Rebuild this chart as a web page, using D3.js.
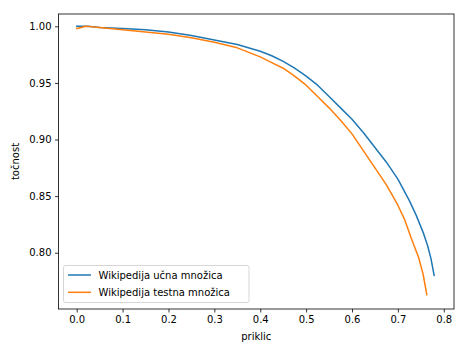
<!DOCTYPE html>
<html>
<head>
<meta charset="utf-8">
<script src="https://cdn.jsdelivr.net/npm/d3@7"></script>
<style>
  body { margin: 0; background: #fff; }
  svg { font-family: "DejaVu Sans", sans-serif; font-size: 10px; }
</style>
</head>
<body>
<div id="chart"></div>
<script>
// recall / precision points
const trainRecall = [0.000, 0.025, 0.050, 0.100, 0.150, 0.200, 0.250, 0.300, 0.350, 0.400, 0.425, 0.450, 0.475, 0.500, 0.525, 0.550, 0.575, 0.600, 0.625, 0.650, 0.675, 0.700, 0.725, 0.740, 0.755, 0.765, 0.772, 0.779];
const trainPrecision = [1.000, 1.000, 0.999, 0.998, 0.997, 0.995, 0.992, 0.988, 0.984, 0.978, 0.974, 0.969, 0.963, 0.956, 0.948, 0.938, 0.928, 0.918, 0.906, 0.893, 0.880, 0.865, 0.846, 0.833, 0.818, 0.806, 0.795, 0.780];
const testRecall = [0.000, 0.010, 0.020, 0.050, 0.100, 0.150, 0.200, 0.250, 0.300, 0.350, 0.400, 0.425, 0.450, 0.475, 0.500, 0.525, 0.550, 0.575, 0.600, 0.625, 0.650, 0.675, 0.700, 0.715, 0.730, 0.745, 0.755, 0.763];
const testPrecision = [0.998, 0.999, 1.000, 0.999, 0.997, 0.995, 0.993, 0.990, 0.986, 0.981, 0.973, 0.968, 0.963, 0.956, 0.948, 0.938, 0.928, 0.917, 0.905, 0.890, 0.875, 0.860, 0.842, 0.829, 0.812, 0.796, 0.781, 0.763];
const seriesNames = ["Wikipedija učna množica", "Wikipedija testna množica"];
const seriesColors = ["#1f77b4", "#ff7f0e"];
const xTicks = [0.0, 0.1, 0.2, 0.3, 0.4, 0.5, 0.6, 0.7, 0.8];
const yTicks = [0.80, 0.85, 0.90, 0.95, 1.00];

const width = 455, height = 343;
const margin = {top: 14, right: 1, bottom: 34, left: 58.5};
const plotW = width - margin.left - margin.right,
      plotH = height - margin.top - margin.bottom;

const svg = d3.select("#chart").append("svg")
    .attr("width", width).attr("height", height);
const g = svg.append("g")
    .attr("transform", "translate(" + margin.left + "," + margin.top + ")");

const x = d3.scaleLinear().domain([-0.0397, 0.8223]).range([0, plotW]);
const y = d3.scaleLinear().domain([0.7503, 1.0109]).range([plotH, 0]);

const xAxis = d3.axisBottom(x).tickValues(xTicks).tickFormat(d3.format(".1f"))
    .tickSize(3.5).tickPadding(3.5);
const yAxis = d3.axisLeft(y).tickValues(yTicks).tickFormat(d3.format(".2f"))
    .tickSize(3.5).tickPadding(3.5);

const gx = g.append("g").attr("transform", "translate(0," + plotH + ")").call(xAxis);
const gy = g.append("g").call(yAxis);
[gx, gy].forEach(a => {
  a.select(".domain").remove();
  a.selectAll("line").attr("stroke", "#000").attr("stroke-width", 0.8);
  a.selectAll("text").attr("fill", "#000").style("font-size", "10px")
    .style("font-family", "DejaVu Sans, sans-serif");
});

const line = d3.line().x(d => x(d[0])).y(d => y(d[1]));
const series = [
  d3.zip(trainRecall, trainPrecision),
  d3.zip(testRecall, testPrecision)
];
series.forEach((s, i) => {
  g.append("path").datum(s)
    .attr("fill", "none")
    .attr("stroke", seriesColors[i])
    .attr("stroke-width", 1.5)
    .attr("stroke-linejoin", "round")
    .attr("stroke-linecap", "square")
    .attr("d", line);
});

// frame
g.append("rect").attr("width", plotW).attr("height", plotH)
  .attr("fill", "none").attr("stroke", "#000").attr("stroke-width", 0.8);

// axis labels
g.append("text").attr("x", plotW / 2).attr("y", plotH + 31)
  .attr("text-anchor", "middle").text("priklic");
g.append("text").attr("transform", "translate(" + (-40) + "," + (plotH / 2) + ") rotate(-90)")
  .attr("text-anchor", "middle").text("točnost");

// legend
const legend = g.append("g").attr("transform", "translate(5," + (plotH - 43.5) + ")");
legend.append("rect").attr("width", 185.5).attr("height", 37)
  .attr("rx", 2).attr("fill", "#fff").attr("fill-opacity", 0.8)
  .attr("stroke", "#ccc").attr("stroke-width", 0.8);
seriesNames.forEach((name, i) => {
  const ly = 9.5 + i * 17.3;
  legend.append("line").attr("x1", 4.5).attr("x2", 27.5).attr("y1", ly).attr("y2", ly)
    .attr("stroke", seriesColors[i]).attr("stroke-width", 1.5);
  legend.append("text").attr("x", 35).attr("y", ly + 3.6).text(name);
});
</script>
</body>
</html>
